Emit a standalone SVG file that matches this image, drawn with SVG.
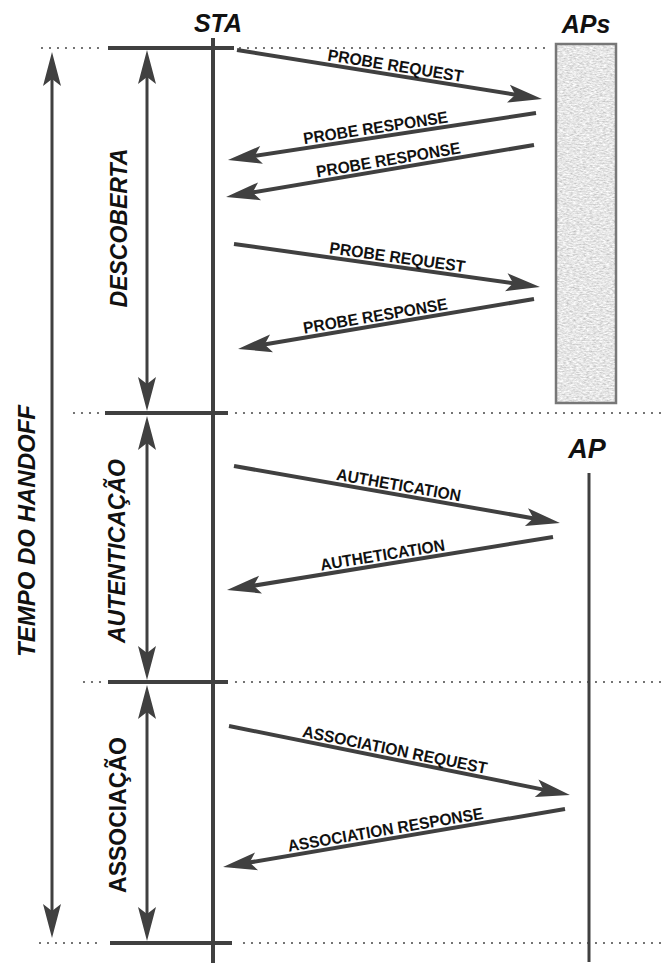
<svg xmlns="http://www.w3.org/2000/svg" width="664" height="963" viewBox="0 0 664 963">
  <style>
    .bg { fill: #ffffff; }
    .life { stroke: #404040; stroke-width: 4; fill: none; }
    .bar { stroke: #404040; stroke-width: 4; fill: none; }
    .dots { stroke: #555555; stroke-width: 2.2; stroke-linecap: round; stroke-dasharray: 0 8; fill: none; }
    .msg { stroke: #404040; stroke-width: 4; fill: none; marker-end: url(#head); }
    .span { stroke: #404040; stroke-width: 3; fill: none; marker-start: url(#headStart); marker-end: url(#head); }
    .title { font-family: "Liberation Sans", Arial, sans-serif; font-weight: bold; font-style: italic; font-size: 25px; fill: #111111; text-anchor: middle; }
    .phase { font-family: "Liberation Sans", Arial, sans-serif; font-weight: bold; font-style: italic; font-size: 23px; fill: #111111; text-anchor: middle; }
    .lbl { font-family: "Liberation Sans", Arial, sans-serif; font-weight: bold; font-size: 16.5px; fill: #111111; text-anchor: middle; }
  </style>
  <defs>
    <marker id="head" markerUnits="userSpaceOnUse" orient="auto" overflow="visible" markerWidth="1" markerHeight="1" refX="0" refY="0">
      <path d="M22,0 L-12,-9 L-5,0 L-12,9 Z" fill="#404040"/>
    </marker>
    <marker id="headStart" markerUnits="userSpaceOnUse" orient="auto-start-reverse" overflow="visible" markerWidth="1" markerHeight="1" refX="0" refY="0">
      <path d="M22,0 L-12,-9 L-5,0 L-12,9 Z" fill="#404040"/>
    </marker>
    <!-- speckled grey fill for the AP group box -->
    <filter id="grain" x="0" y="0" width="100%" height="100%">
      <feTurbulence type="fractalNoise" baseFrequency="0.3 0.7" numOctaves="3" seed="7" result="noise"/>
      <feColorMatrix in="noise" type="matrix" values="0.7 0 0 0 0.44  0.7 0 0 0 0.44  0.7 0 0 0 0.44  0 0 0 0 1" result="grey"/>
      <feComposite in="grey" in2="SourceGraphic" operator="in"/>
    </filter>
  </defs>

  <rect class="bg" x="0" y="0" width="664" height="963"/>

  <!-- phase boundaries -->
  <g id="boundaries">
    <line class="dots" x1="42" y1="48" x2="104" y2="48"/>
    <line class="bar" x1="108" y1="48" x2="234" y2="48"/>
    <line class="dots" x1="240" y1="48" x2="546" y2="48"/>

    <line class="dots" x1="74" y1="413" x2="100" y2="413"/>
    <line class="bar" x1="105" y1="413" x2="228" y2="413"/>
    <line class="dots" x1="236" y1="413" x2="664" y2="413"/>

    <line class="dots" x1="84" y1="682" x2="104" y2="682"/>
    <line class="bar" x1="108" y1="682" x2="228" y2="682"/>
    <line class="dots" x1="236" y1="682" x2="664" y2="682"/>

    <line class="dots" x1="40" y1="943" x2="104" y2="943"/>
    <line class="bar" x1="110" y1="943" x2="232" y2="943"/>
    <line class="dots" x1="244" y1="943" x2="664" y2="943"/>
  </g>

  <!-- station lifeline -->
  <g id="sta">
    <text class="title" x="218" y="32">STA</text>
    <line class="life" x1="213" y1="38" x2="213" y2="963"/>
  </g>

  <!-- candidate access points -->
  <g id="aps">
    <text class="title" x="586" y="33">APs</text>
    <rect x="556" y="44" width="60" height="359" fill="#c8c8c8"/>
    <rect x="556" y="44" width="60" height="359" fill="#c8c8c8" filter="url(#grain)"/>
    <rect x="556" y="44" width="60" height="359" fill="none" stroke="#777777" stroke-width="2.5"/>
  </g>

  <!-- chosen access point -->
  <g id="ap">
    <text class="title" x="587" y="458" style="font-size:27px">AP</text>
    <line x1="589" y1="473" x2="589" y2="962" stroke="#404040" stroke-width="3"/>
  </g>

  <!-- duration spans -->
  <g id="phase-handoff">
    <line class="span" x1="52" y1="74" x2="52" y2="916"/>
    <text class="title" style="font-size:24px" transform="translate(35,531) rotate(-90)">TEMPO DO HANDOFF</text>
  </g>
  <g id="phase-discovery">
    <line class="span" x1="147" y1="72" x2="147" y2="389"/>
    <text class="phase" transform="translate(127,228) rotate(-90)">DESCOBERTA</text>
  </g>
  <g id="phase-auth">
    <line class="span" x1="147" y1="438" x2="147" y2="658"/>
    <text class="phase" transform="translate(125,551) rotate(-90)">AUTENTICAÇÃO</text>
  </g>
  <g id="phase-assoc">
    <line class="span" x1="147" y1="707" x2="147" y2="919"/>
    <text class="phase" style="font-style:normal" transform="translate(126,815) rotate(-90)">ASSOCIAÇÃO</text>
  </g>

  <!-- messages -->
  <g id="connectors">
    <line class="msg" x1="237" y1="50" x2="520.3" y2="95.5"/>
    <line class="msg" x1="536" y1="113" x2="249.7" y2="156.7"/>
    <line class="msg" x1="534" y1="145" x2="247.7" y2="193.3"/>
    <line class="msg" x1="234" y1="244" x2="518.2" y2="283.9"/>
    <line class="msg" x1="534" y1="299" x2="259.7" y2="345.3"/>
    <line class="msg" x1="234" y1="466" x2="538.3" y2="519.2"/>
    <line class="msg" x1="553" y1="537" x2="248.7" y2="586.5"/>
    <line class="msg" x1="229" y1="726" x2="548.4" y2="790.6"/>
    <line class="msg" x1="565" y1="809" x2="244.7" y2="863.3"/>
  </g>

  <!-- message labels -->
  <g id="labels">
    <text class="lbl" transform="translate(394,75.2) rotate(9.13)" y="-4" textLength="137" lengthAdjust="spacingAndGlyphs">PROBE REQUEST</text>
    <text class="lbl" transform="translate(377,137.3) rotate(-8.68)" y="-4" textLength="146" lengthAdjust="spacingAndGlyphs">PROBE RESPONSE</text>
    <text class="lbl" transform="translate(390,169.3) rotate(-9.58)" y="-4" textLength="146" lengthAdjust="spacingAndGlyphs">PROBE RESPONSE</text>
    <text class="lbl" transform="translate(396,266.8) rotate(8.0)" y="-4" textLength="137" lengthAdjust="spacingAndGlyphs">PROBE REQUEST</text>
    <text class="lbl" transform="translate(377,325.5) rotate(-9.59)" y="-4" textLength="146" lengthAdjust="spacingAndGlyphs">PROBE RESPONSE</text>
    <text class="lbl" transform="translate(397,494.5) rotate(9.92)" y="-4" textLength="126" lengthAdjust="spacingAndGlyphs">AUTHETICATION</text>
    <text class="lbl" transform="translate(384,564.5) rotate(-9.23)" y="-4" textLength="126" lengthAdjust="spacingAndGlyphs">AUTHETICATION</text>
    <text class="lbl" transform="translate(393,759.2) rotate(11.44)" y="-4" textLength="188" lengthAdjust="spacingAndGlyphs">ASSOCIATION REQUEST</text>
    <text class="lbl" transform="translate(387,839.2) rotate(-9.63)" y="-4" textLength="198" lengthAdjust="spacingAndGlyphs">ASSOCIATION RESPONSE</text>
  </g>
</svg>
